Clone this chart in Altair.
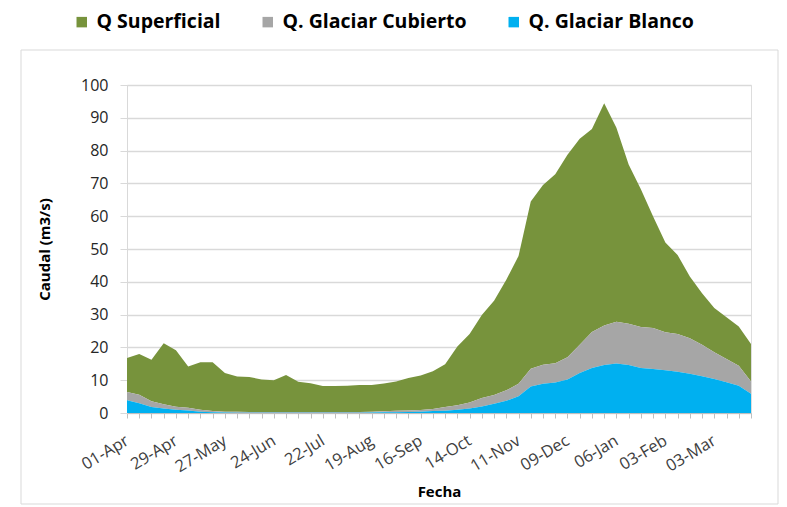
import altair as alt
import pandas as pd

week = list(range(52))
tick_labels = ["01-Apr", "29-Apr", "27-May", "24-Jun", "22-Jul", "19-Aug", "16-Sep",
               "14-Oct", "11-Nov", "09-Dec", "06-Jan", "03-Feb", "03-Mar"]

q_superficial = [10.4, 12.4, 12.6, 18.6, 17.2, 12.6, 14.5, 14.9, 11.8, 10.8,
                 10.7, 9.9, 9.7, 11.3, 9.2, 8.8, 7.9, 7.9, 8.0, 8.2,
                 8.1, 8.5, 8.9, 9.9, 10.5, 11.5, 13.1, 17.9, 20.9, 25.3,
                 28.7, 33.7, 39.0, 51.0, 54.8, 57.6, 61.7, 62.8, 61.9, 67.7,
                 59.2, 48.6, 42.0, 34.0, 27.4, 24.1, 18.8, 15.7, 13.5, 12.7,
                 12.0, 11.4]
q_cubierto = [2.5, 2.6, 1.8, 1.3, 0.9, 0.8, 0.6, 0.4, 0.25, 0.25,
              0.2, 0.2, 0.2, 0.2, 0.2, 0.2, 0.2, 0.2, 0.2, 0.2,
              0.25, 0.3, 0.45, 0.5, 0.5, 0.6, 1.1, 1.4, 1.8, 2.6,
              2.7, 3.2, 3.8, 5.4, 5.8, 5.9, 6.8, 8.6, 11.0, 12.1,
              12.7, 12.6, 12.5, 12.5, 11.6, 11.5, 10.8, 9.6, 8.1, 7.1,
              6.1, 3.7]
q_blanco = [3.9, 3.0, 1.8, 1.4, 1.0, 0.8, 0.4, 0.2, 0.15, 0.1,
            0.1, 0.1, 0.1, 0.1, 0.1, 0.1, 0.1, 0.1, 0.1, 0.1,
            0.15, 0.2, 0.25, 0.3, 0.4, 0.6, 0.7, 1.0, 1.4, 2.0,
            2.8, 3.7, 5.1, 8.1, 8.9, 9.3, 10.2, 12.2, 13.7, 14.6,
            15.1, 14.6, 13.7, 13.4, 13.0, 12.6, 12.0, 11.2, 10.4, 9.4,
            8.3, 5.9]

series_names = ["Q Superficial", "Q. Glaciar Cubierto", "Q. Glaciar Blanco"]
series_colors = ["#77933C", "#A6A6A6", "#00B0F0"]
series_values = [q_superficial, q_cubierto, q_blanco]
stack_order = [3, 2, 1]

rows = []
for name, vals, o in zip(series_names, series_values, stack_order):
    for w, v in zip(week, vals):
        rows.append({"week": w, "serie": name, "caudal": v, "orden": o})
df = pd.DataFrame(rows)

label_js = "[" + ",".join("'%s'" % t for t in tick_labels) + "]"
FONT = "Open Sans"

area = alt.Chart(df).mark_area(interpolate="linear").encode(
    x=alt.X("week:Q",
            scale=alt.Scale(domain=[0, 51], nice=False, zero=False),
            axis=alt.Axis(title="Fecha", values=week, grid=False,
                          labelExpr="datum.value % 4 == 0 ? " + label_js + "[datum.value / 4] : ''",
                          labelAngle=-31, labelAlign="right", labelBaseline="middle",
                          labelPadding=21, labelOverlap=False, labelFontSize=16.5,
                          labelColor="#404040", labelFont=FONT,
                          tickSize=5, tickColor="#BFBFBF", domainColor="#BFBFBF",
                          titleFontSize=15, titleFont=FONT, titleFontWeight="bold",
                          titleColor="#000000", titlePadding=9)),
    y=alt.Y("caudal:Q", stack="zero",
            scale=alt.Scale(domain=[0, 100], nice=False),
            axis=alt.Axis(title="Caudal (m3/s)", values=list(range(0, 101, 10)),
                          gridColor="#D9D9D9", gridWidth=1.5,
                          domainColor="#D9D9D9", tickColor="#D9D9D9", tickSize=7,
                          labelFontSize=16, labelColor="#262626", labelFont=FONT,
                          labelPadding=12,
                          titleFontSize=15, titleFont=FONT, titleFontWeight="bold",
                          titleColor="#000000", titlePadding=28)),
    color=alt.Color("serie:N",
                    scale=alt.Scale(domain=series_names, range=series_colors),
                    legend=alt.Legend(title=None, orient="none", direction="horizontal",
                                      legendX=-55, legendY=-73,
                                      symbolType="square", symbolSize=110,
                                      symbolStrokeWidth=0, symbolOpacity=1,
                                      labelFontSize=19.5, labelFont=FONT,
                                      labelFontWeight="bold", labelColor="#000000",
                                      labelLimit=400,
                                      labelOffset=5, columnPadding=37)),
    order=alt.Order("orden:Q", sort="ascending"),
)

frame = alt.Chart(pd.DataFrame({"a": [0]})).mark_rect(
    fill=None, stroke="#D9D9D9", strokeWidth=1
).encode(x=alt.value(-106), x2=alt.value(651), y=alt.value(-35), y2=alt.value(419))

chart = alt.layer(frame, area).properties(
    width=624, height=328,
    autosize=alt.AutoSizeParams(type="none"),
    padding={"left": 119, "top": 77, "right": 28, "bottom": 92},
).configure_view(stroke=None).configure(font=FONT)

chart.save("out.html", embed_options={"renderer": "svg", "actions": False})
